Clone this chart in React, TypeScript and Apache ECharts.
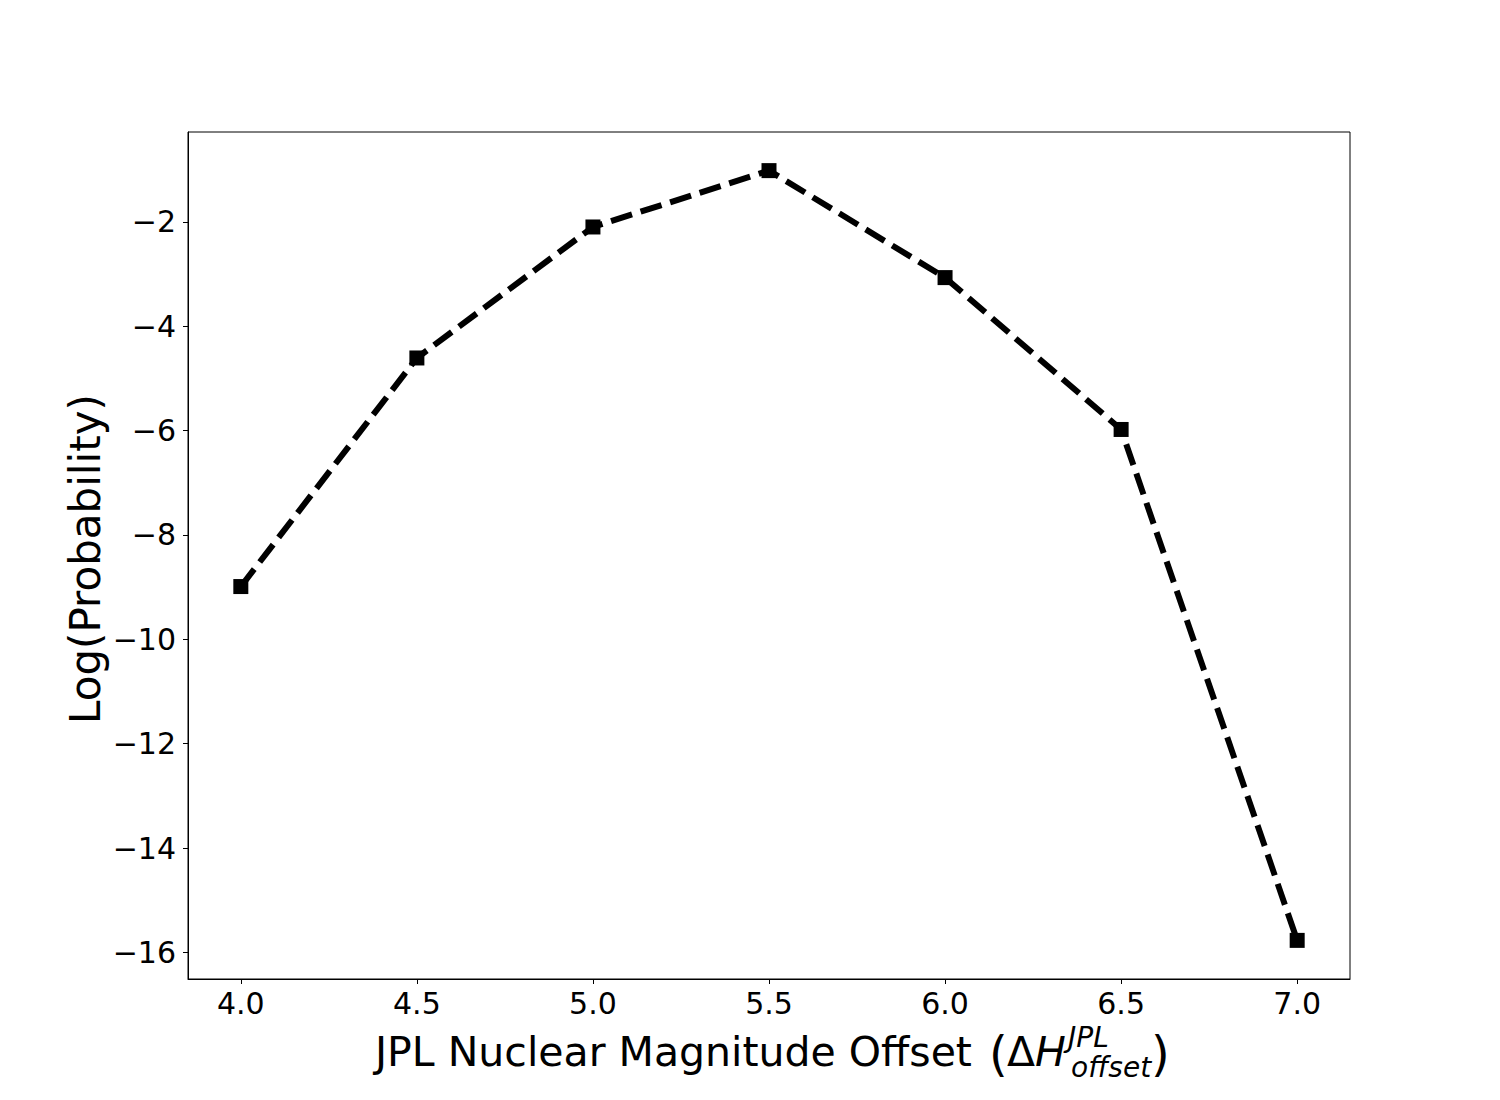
import React, { useEffect, useRef } from "react";
import * as echarts from "echarts";

const xValues = [4.0, 4.5, 5.0, 5.5, 6.0, 6.5, 7.0];
const logProb = [-8.99, -4.61, -2.1, -1.02, -3.07, -5.98, -15.77];
const xTicks = [4.0, 4.5, 5.0, 5.5, 6.0, 6.5, 7.0];
const yTicks = [-16, -14, -12, -10, -8, -6, -4, -2];

const FONT = "DejaVu Sans";

export default function App() {
  const ref = useRef<HTMLDivElement>(null);
  useEffect(() => {
    if (!ref.current) return;
    const chart = echarts.init(ref.current, undefined, { renderer: "svg" });
    const fmtNum = (v: number, digits: number) => {
      const s = Math.abs(v).toFixed(digits);
      return v < 0 ? "\u2212" + s : s;
    };
    chart.setOption({
      animation: false,
      backgroundColor: "#ffffff",
      grid: {
        left: 188,
        right: 150,
        top: 132,
        bottom: 121,
        show: true,
        borderColor: "#000",
        borderWidth: 1,
        backgroundColor: "transparent",
      },
      xAxis: {
        type: "value",
        min: 3.85,
        max: 7.15,
        axisLine: { show: true, onZero: false, lineStyle: { color: "#000", width: 1 } },
        splitLine: { show: false },
        axisTick: { show: true, length: 5, inside: false, customValues: xTicks, lineStyle: { color: "#000", width: 1 } },
        axisLabel: {
          customValues: xTicks,
          formatter: (v: number) => fmtNum(v, 1),
          fontFamily: FONT,
          fontSize: 30,
          color: "#000",
          margin: 9,
        },
      },
      yAxis: {
        type: "value",
        min: -16.51,
        max: -0.28,
        axisLine: { show: true, onZero: false, lineStyle: { color: "#000", width: 1 } },
        splitLine: { show: false },
        axisTick: { show: true, length: 5, inside: false, customValues: yTicks, lineStyle: { color: "#000", width: 1 } },
        axisLabel: {
          customValues: yTicks,
          formatter: (v: number) => fmtNum(v, 0),
          fontFamily: FONT,
          fontSize: 30,
          color: "#000",
          margin: 12,
        },
      },
      series: [
        {
          type: "line",
          data: xValues.map((x, i) => [x, logProb[i]]),
          symbol: "rect",
          symbolSize: 15,
          showSymbol: true,
          itemStyle: { color: "#000" },
          lineStyle: { color: "#000", width: 6, type: [22, 9] },
          z: 3,
        },
      ],
      graphic: [
        {
          type: "text",
          x: 85,
          y: 559,
          rotation: Math.PI / 2,
          style: {
            text: "Log(Probability)",
            font: `42px "${FONT}"`,
            fill: "#000",
            textAlign: "center",
            textVerticalAlign: "middle",
          },
        },
        {
          type: "text",
          x: 375,
          y: 1052,
          style: {
            text: "JPL Nuclear Magnitude Offset",
            font: `41px "${FONT}"`,
            fill: "#000",
            textAlign: "left",
            textVerticalAlign: "middle",
          },
        },
        {
          type: "text",
          x: 989,
          y: 1054,
          style: { text: "(", font: `48px "${FONT}"`, fill: "#000", textAlign: "left", textVerticalAlign: "middle" },
        },
        {
          type: "text",
          x: 1007,
          y: 1052,
          style: { text: "\u0394", font: `41px "${FONT}"`, fill: "#000", textAlign: "left", textVerticalAlign: "middle" },
        },
        {
          type: "text",
          x: 1035,
          y: 1052,
          style: { text: "H", font: `italic 41px "${FONT}"`, fill: "#000", textAlign: "left", textVerticalAlign: "middle" },
        },
        {
          type: "text",
          x: 1068,
          y: 1037,
          style: { text: "JPL", font: `italic 28px "${FONT}"`, fill: "#000", textAlign: "left", textVerticalAlign: "middle" },
        },
        {
          type: "text",
          x: 1071,
          y: 1067,
          style: { text: "offset", font: `italic 28px "${FONT}"`, fill: "#000", textAlign: "left", textVerticalAlign: "middle" },
        },
        {
          type: "text",
          x: 1151,
          y: 1054,
          style: { text: ")", font: `48px "${FONT}"`, fill: "#000", textAlign: "left", textVerticalAlign: "middle" },
        },
      ],
    });
    return () => chart.dispose();
  }, []);
  return (
    <div
      ref={ref}
      style={{ position: "absolute", left: 0, top: 0, width: 1500, height: 1100, background: "#fff" }}
    />
  );
}
